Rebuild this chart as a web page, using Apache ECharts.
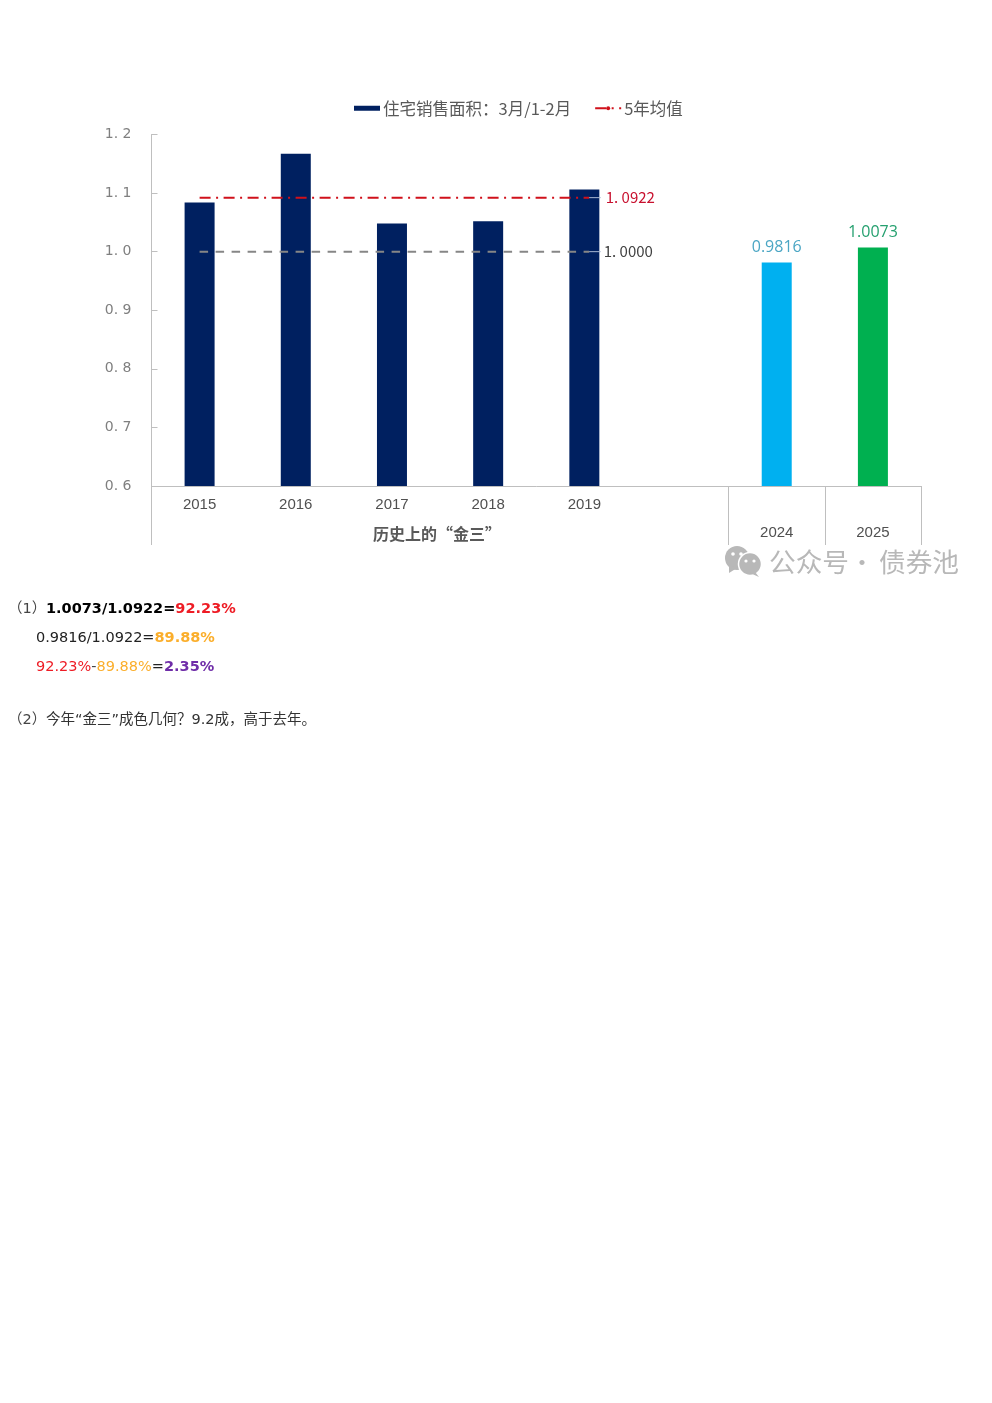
<!DOCTYPE html>
<html><head><meta charset="utf-8">
<style>html,body{margin:0;padding:0;background:#fff}#c{width:992px;height:1403px}</style>
<script src="https://cdn.jsdelivr.net/npm/echarts@6/dist/echarts.min.js"></script>
</head><body><div id="c"></div>
<script>
const categories = ['2015','2016','2017','2018','2019','','2024','2025'];
const barValues = [1.084,1.167,1.048,1.052,1.106,null,0.9816,1.0073];
const barLabels = [null,null,null,null,null,null,'0.9816','1.0073'];
const barColors = ['#002060','#002060','#002060','#002060','#002060','#002060','#00B0F0','#00B050'];
const labelColors = [null,null,null,null,null,null,'#4BA6C4','#25A06F'];
const yTicks = {min:0.6,max:1.2,interval:0.1};
const avgName = '5年均值', barName = '住宅销售面积：3月/1-2月';
const lineSpan = [0.5,4.55];
const leaderSpan = [4.55,4.67];
const avgValue = 1.0922, baseValue = 1.0;
const avgLabel = '1. 0922', baseLabel = '1. 0000';
const groupTitle = '历史上的“金三”';
const watermarkParts = ['公众号','·','债券池'];
const CJK = '"Noto Sans CJK SC","Noto Sans",sans-serif';
const BODY = '"DejaVu Sans","Noto Sans CJK SC",sans-serif';

const chart = echarts.init(document.getElementById('c'),null,{renderer:'canvas'});
const tickAt = new Set([0,6,7,8]);
const red='#EE1C25', org='#FBAE2B', pur='#6F2DA8';
const F=14.5;
const rich = {
  n:{fontFamily:BODY,fontSize:F,fill:'#222'},
  g:{fontFamily:BODY,fontSize:F,fill:'#444'},
  b:{fontFamily:BODY,fontSize:F,fontWeight:'bold',fill:'#000'},
  rb:{fontFamily:BODY,fontSize:F,fontWeight:'bold',fill:red},
  r:{fontFamily:BODY,fontSize:F,fill:red},
  ob:{fontFamily:BODY,fontSize:F,fontWeight:'bold',fill:org},
  o:{fontFamily:BODY,fontSize:F,fill:org},
  pb:{fontFamily:BODY,fontSize:F,fontWeight:'bold',fill:pur},
  k:{fontFamily:BODY,fontSize:14.5,fill:'#333'}
};
const leader=(name,v,txt,color,dist)=>({
  name,type:'line',xAxisIndex:1,symbol:'none',z:5,silent:true,
  lineStyle:{color:'#A9B8D2',width:1},
  data:[[leaderSpan[0],v],[leaderSpan[1],v]],
  endLabel:{show:true,distance:dist,formatter:()=>txt,color,fontFamily:CJK,fontSize:15}
});
chart.setOption({
  animation:false,
  backgroundColor:'#fff',
  legend:{
    left:354,top:100,padding:0,itemGap:23,itemWidth:26,itemHeight:5,
    selectedMode:false,
    data:[{name:barName,icon:'rect'},{name:avgName}],
    textStyle:{fontFamily:CJK,fontSize:16.5,color:'#595959',padding:[0,0,0,-2]}
  },
  grid:{left:151.5,top:134.5,width:769.5,height:351.5},
  xAxis:[{
    type:'category',data:categories,
    axisLine:{lineStyle:{color:'#BFBFBF',width:1}},
    axisTick:{show:true,length:59,interval:(i)=>tickAt.has(i),lineStyle:{color:'#BFBFBF',width:1}},
    axisLabel:{
      interval:0,margin:5,fontFamily:'"Liberation Sans",sans-serif',fontSize:15,color:'#505050',lineHeight:28,
      formatter:(v,i)=> i>=6 ? '\n'+v : v
    }
  },{
    type:'value',min:0,max:8,show:false
  }],
  yAxis:{
    type:'value',min:yTicks.min,max:yTicks.max,interval:yTicks.interval,
    axisLine:{show:true,lineStyle:{color:'#BFBFBF',width:1}},
    axisTick:{show:true,inside:true,length:6,lineStyle:{color:'#BFBFBF'}},
    splitLine:{show:false},
    axisLabel:{margin:20,padding:[4,0,0,0],fontFamily:'"DejaVu Sans",sans-serif',fontSize:14,color:'#7F7F7F',
      formatter:v=>v.toFixed(1).replace('.','. ')}
  },
  series:[
    {name:barName,type:'bar',barWidth:30,itemStyle:{color:'#002060'},z:2,
     data:barValues.map((v,i)=>({value:v,itemStyle:{color:barColors[i]},
       label:barLabels[i]?{show:true,position:'top',distance:7,formatter:()=>barLabels[i],color:labelColors[i],fontFamily:'"Open Sans",sans-serif',fontSize:16}:{show:false}}))},
    {name:avgName,type:'line',xAxisIndex:1,symbol:'none',z:4,
     lineStyle:{color:'#D0111B',width:2,type:[11,5.5,2,5.5]},itemStyle:{color:'#D0111B'},
     data:[[lineSpan[0],avgValue],[lineSpan[1],avgValue]]},
    {name:'基准',type:'line',xAxisIndex:1,symbol:'none',z:4,
     lineStyle:{color:'#868686',width:2,type:[8.5,7.5]},
     data:[[lineSpan[0],baseValue],[lineSpan[1],baseValue]]},
    leader('均值引线',avgValue,avgLabel,'#C8102E',5),
    leader('基准引线',baseValue,baseLabel,'#404040',3)
  ],
  graphic:[
    {type:'text',x:437,y:534,style:{text:groupTitle,align:'center',verticalAlign:'middle',fontFamily:CJK,fontSize:16,fontWeight:'bold',fill:'#595959'}},
    {type:'text',x:769,y:562,style:{text:watermarkParts[0],verticalAlign:'middle',fontFamily:CJK,fontSize:26.7,fill:'#B8B8B8'}},
    {type:'text',x:862,y:562,style:{text:watermarkParts[1],align:'center',verticalAlign:'middle',fontFamily:CJK,fontSize:24,fill:'#B8B8B8'}},
    {type:'text',x:879,y:562,style:{text:watermarkParts[2],verticalAlign:'middle',fontFamily:CJK,fontSize:26.7,fill:'#B8B8B8'}},
    {type:'group',silent:true,children:[
      {type:'circle',shape:{cx:737,cy:558,r:12},style:{fill:'#B8B8B8'}},
      {type:'polygon',shape:{points:[[729,565],[729,573],[737,568]]},style:{fill:'#B8B8B8'}},
      {type:'circle',shape:{cx:750,cy:564,r:11.5},style:{fill:'#B8B8B8',stroke:'#fff',lineWidth:1.5}},
      {type:'polygon',shape:{points:[[755,572],[759,577],[750,573]]},style:{fill:'#B8B8B8'}},
      {type:'circle',shape:{cx:733,cy:554,r:1.8},style:{fill:'#fff'}},
      {type:'circle',shape:{cx:741,cy:554,r:1.8},style:{fill:'#fff'}},
      {type:'circle',shape:{cx:746,cy:561,r:1.6},style:{fill:'#fff'}},
      {type:'circle',shape:{cx:754,cy:561,r:1.6},style:{fill:'#fff'}}
    ]},
    {type:'text',x:8,y:609.5,style:{verticalAlign:'middle',rich,text:'{g|（1）}'}},
    {type:'text',x:46,y:609.5,style:{verticalAlign:'middle',rich,text:'{b|1.0073/1.0922=}{rb|92.23%}'}},
    {type:'text',x:36,y:638.5,style:{verticalAlign:'middle',rich,text:'{n|0.9816/1.0922=}{ob|89.88%}'}},
    {type:'text',x:36,y:667.5,style:{verticalAlign:'middle',rich,text:'{r|92.23%}{g|-}{o|89.88%}{n|=}{pb|2.35%}'}},
    {type:'text',x:8,y:720.5,style:{verticalAlign:'middle',rich,text:'{g|（2）}'}},
    {type:'text',x:46,y:720.5,style:{verticalAlign:'middle',rich,text:'{k|今年“金三”成色几何？9.2成，高于去年。}'}}
  ]
});
</script></body></html>
